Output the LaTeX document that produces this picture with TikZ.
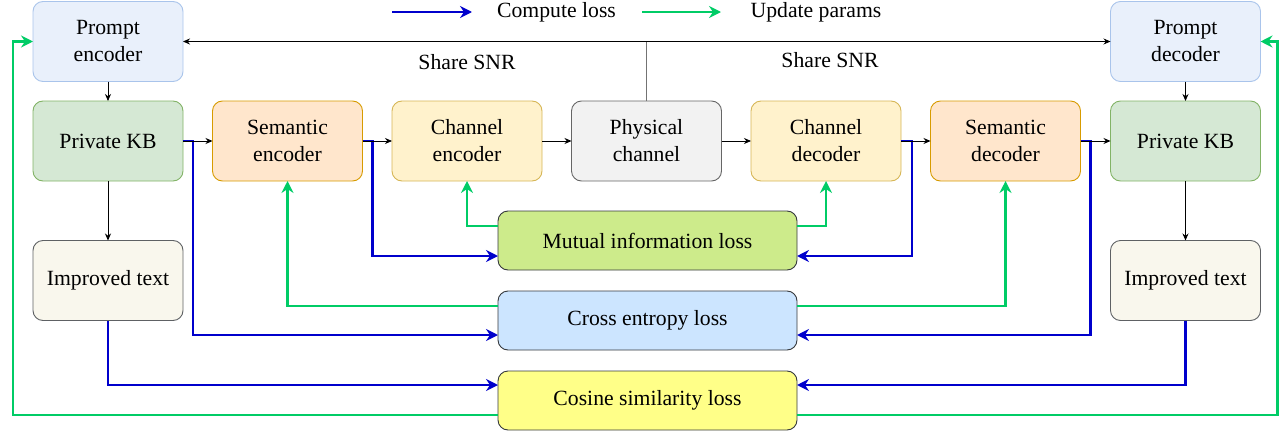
\documentclass[tikz,border=0pt]{standalone}
\usepackage{fontspec}
\setmainfont{Liberation Serif}
\usetikzlibrary{arrows.meta,calc}
\definecolor{cblue}{HTML}{0000CC}
\definecolor{cgreen}{HTML}{00CC66}
\definecolor{pfill}{HTML}{E9F0FB}
\definecolor{pdraw}{HTML}{A9C4EB}
\definecolor{kfill}{HTML}{D5E8D4}
\definecolor{kdraw}{HTML}{82B366}
\definecolor{sfill}{HTML}{FFE6CC}
\definecolor{sdraw}{HTML}{D79B00}
\definecolor{chfill}{HTML}{FFF2CC}
\definecolor{chdraw}{HTML}{D6B656}
\definecolor{phfill}{HTML}{F2F2F2}
\definecolor{phdraw}{HTML}{666666}
\definecolor{ifill}{HTML}{F9F7ED}
\definecolor{ldraw}{HTML}{36393D}
\definecolor{mfill}{HTML}{CDEB8B}
\definecolor{xfill}{HTML}{CCE5FF}
\definecolor{cfill}{HTML}{FFFF88}
\begin{document}
\begin{tikzpicture}[x=1pt,y=-1pt,
  font=\fontsize{21.7}{27}\selectfont,
  box/.style={rounded corners=10pt, line width=0.9pt, minimum width=150pt, minimum height=80pt, align=center, inner sep=2pt, outer sep=0pt},
  lossbox/.style={rounded corners=10pt, line width=0.9pt, draw=ldraw, minimum width=299pt, minimum height=59pt, align=center, outer sep=0pt},
  conn/.style={line width=0.8pt, -{Stealth[length=7pt,width=6pt]}},
  cl/.style={cblue, line width=2.6pt, -{Stealth[length=12pt,width=12pt,inset=4pt]}},
  up/.style={cgreen, line width=2.6pt, -{Stealth[length=12pt,width=12pt,inset=4pt]}},
  lbl/.style={inner sep=1pt}
]
\useasboundingbox (0,0) rectangle (1288,431);

% top row
\node[box, fill=pfill, draw=pdraw] (pe) at (108,41.5) {Prompt\\encoder};
\node[box, fill=pfill, draw=pdraw] (pd) at (1185.5,41.5) {Prompt\\decoder};

% main row
\node[box, fill=kfill, draw=kdraw] (kb1) at (108,141) {Private KB};
\node[box, fill=sfill, draw=sdraw] (senc) at (287.5,141) {Semantic\\encoder};
\node[box, fill=chfill, draw=chdraw] (cenc) at (467,141) {Channel\\encoder};
\node[box, fill=phfill, draw=phdraw] (ph) at (646.5,141) {Physical\\channel};
\node[box, fill=chfill, draw=chdraw] (cdec) at (826,141) {Channel\\decoder};
\node[box, fill=sfill, draw=sdraw] (sdec) at (1005.5,141) {Semantic\\decoder};
\node[box, fill=kfill, draw=kdraw] (kb2) at (1185.5,141) {Private KB};

% improved text
\node[box, fill=ifill, draw=ldraw!80] (it1) at (108,280.5) {Improved text};
\node[box, fill=ifill, draw=ldraw!80] (it2) at (1185.5,280.5) {Improved text};

% losses
\node[lossbox, fill=mfill] (mi) at (647.5,240.5) {Mutual information loss};
\node[lossbox, fill=xfill] (xe) at (647.5,320.5) {Cross entropy loss};
\node[lossbox, fill=cfill] (cs) at (647.5,400.5) {Cosine similarity loss};

% legend
\coordinate (la1) at (392,12);
\coordinate (lb1) at (472,12);
\node[lbl] (lt1) at (556.5,12) {Compute loss};
\coordinate (la2) at (642,12);
\coordinate (lb2) at (721,12);
\node[lbl] (lt2) at (816,12) {Update params};
\draw[cl] (la1) -- (lb1);
\draw[up] (la2) -- (lb2);

% share SNR
\draw[line width=0.8pt, {Stealth[length=7pt,width=6pt]}-{Stealth[length=7pt,width=6pt]}] (pe.east) -- (pd.west);
\draw[line width=0.9pt, black!55] (ph.north) -- (ph.north |- pe.east);
\node[lbl] (snr1) at (467,62) {Share SNR};
\node[lbl] (snr2) at (830,60) {Share SNR};

% compute loss (blue)
\draw[cl] (kb1.east) -- ++(10,0) |- ($(xe.west)+(0,14.5)$);
\draw[cl] (senc.east) -- ++(10,0) |- ($(mi.west)+(0,15.5)$);
\draw[cl] (it1.south) |- ($(cs.west)+(0,-15.5)$);
\draw[cl] (cdec.east) -- ++(11,0) |- ($(mi.east)+(0,15.5)$);
\draw[cl] (sdec.east) -- ++(10,0) |- ($(xe.east)+(0,14.5)$);
\draw[cl] (it2.south) |- ($(cs.east)+(0,-15.5)$);

% update params (green)
\draw[up] ($(mi.west)+(0,-14.5)$) -| (cenc.south);
\draw[up] ($(mi.east)+(0,-14.5)$) -| (cdec.south);
\draw[up] ($(xe.west)+(0,-14.5)$) -| (senc.south);
\draw[up] ($(xe.east)+(0,-14.5)$) -| (sdec.south);
\draw[up] ($(cs.west)+(0,14.5)$) -| ($(pe.west)+(-20,0)$) -- (pe.west);
\draw[up] ($(cs.east)+(0,14.5)$) -| ($(pd.east)+(17,0)$) -- (pd.east);

% black flow
\draw[conn] (pe) -- (kb1);
\draw[conn] (pd) -- (kb2);
\draw[conn] (kb1) -- (senc);
\draw[conn] (senc) -- (cenc);
\draw[conn] (cenc) -- (ph);
\draw[conn] (ph) -- (cdec);
\draw[conn] (cdec) -- (sdec);
\draw[conn] (sdec) -- (kb2);
\draw[conn] (kb1) -- (it1);
\draw[conn] (kb2) -- (it2);
\end{tikzpicture}
\end{document}
